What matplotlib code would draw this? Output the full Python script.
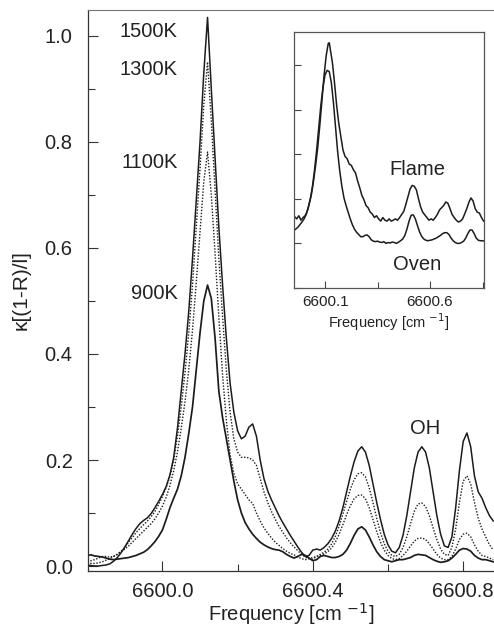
import numpy as np
import matplotlib.pyplot as plt
from matplotlib.ticker import MultipleLocator, FixedLocator

plt.rcParams['font.family'] = ['Liberation Sans', 'DejaVu Sans']

# frequency grid of the main spectra [cm-1]
freq = [
    6599.80, 6599.81, 6599.82, 6599.83, 6599.84, 6599.85, 6599.86, 6599.87, 6599.88, 6599.89,
    6599.90, 6599.91, 6599.92, 6599.93, 6599.94, 6599.95, 6599.96, 6599.97, 6599.98, 6599.99,
    6600.00, 6600.01, 6600.02, 6600.03, 6600.04, 6600.05, 6600.06, 6600.07, 6600.08, 6600.09,
    6600.10, 6600.11, 6600.12, 6600.13, 6600.14, 6600.15, 6600.16, 6600.17, 6600.18, 6600.19,
    6600.20, 6600.21, 6600.22, 6600.23, 6600.24, 6600.25, 6600.26, 6600.27, 6600.28, 6600.29,
    6600.30, 6600.31, 6600.32, 6600.33, 6600.34, 6600.35, 6600.36, 6600.37, 6600.38, 6600.39,
    6600.40, 6600.41, 6600.42, 6600.43, 6600.44, 6600.45, 6600.46, 6600.47, 6600.48, 6600.49,
    6600.50, 6600.51, 6600.52, 6600.53, 6600.54, 6600.55, 6600.56, 6600.57, 6600.58, 6600.59,
    6600.60, 6600.61, 6600.62, 6600.63, 6600.64, 6600.65, 6600.66, 6600.67, 6600.68, 6600.69,
    6600.70, 6600.71, 6600.72, 6600.73, 6600.74, 6600.75, 6600.76, 6600.77, 6600.78, 6600.79,
    6600.80, 6600.81, 6600.82, 6600.83, 6600.84, 6600.85, 6600.86, 6600.87, 6600.88,
]

k1500 = [
    0.002, 0.001, 0.000, 0.000, 0.001, 0.002, 0.004, 0.009, 0.016, 0.025,
    0.036, 0.048, 0.060, 0.071, 0.080, 0.086, 0.091, 0.099, 0.110, 0.122,
    0.135, 0.150, 0.172, 0.205, 0.260, 0.330, 0.400, 0.480, 0.580, 0.690,
    0.800, 0.930, 1.035, 0.900, 0.770, 0.640, 0.530, 0.430, 0.345, 0.290,
    0.255, 0.240, 0.245, 0.262, 0.268, 0.245, 0.200, 0.165, 0.142, 0.125,
    0.110, 0.095, 0.082, 0.070, 0.058, 0.047, 0.036, 0.026, 0.018, 0.020,
    0.030, 0.032, 0.030, 0.035, 0.042, 0.052, 0.066, 0.085, 0.110, 0.140,
    0.170, 0.197, 0.217, 0.225, 0.215, 0.190, 0.155, 0.120, 0.088, 0.060,
    0.040, 0.028, 0.025, 0.035, 0.058, 0.095, 0.140, 0.185, 0.215, 0.225,
    0.215, 0.185, 0.140, 0.095, 0.060, 0.038, 0.035, 0.055, 0.110, 0.180,
    0.235, 0.251, 0.225, 0.170, 0.140, 0.128, 0.110, 0.095, 0.085,
]

k1300 = [
    0.010, 0.010, 0.012, 0.015, 0.018, 0.018, 0.017, 0.018, 0.022, 0.028,
    0.035, 0.045, 0.054, 0.063, 0.071, 0.078, 0.085, 0.093, 0.103, 0.116,
    0.131, 0.148, 0.170, 0.200, 0.245, 0.300, 0.365, 0.440, 0.530, 0.640,
    0.750, 0.870, 0.951, 0.840, 0.710, 0.580, 0.470, 0.370, 0.290, 0.240,
    0.215, 0.205, 0.205, 0.204, 0.200, 0.190, 0.165, 0.140, 0.120, 0.103,
    0.088, 0.075, 0.064, 0.053, 0.044, 0.036, 0.029, 0.022, 0.017, 0.014,
    0.013, 0.018, 0.022, 0.026, 0.032, 0.042, 0.056, 0.075, 0.098, 0.122,
    0.145, 0.163, 0.174, 0.176, 0.168, 0.148, 0.120, 0.090, 0.063, 0.042,
    0.028, 0.020, 0.018, 0.022, 0.035, 0.055, 0.080, 0.103, 0.117, 0.119,
    0.112, 0.095, 0.072, 0.050, 0.032, 0.022, 0.020, 0.035, 0.070, 0.120,
    0.160, 0.170, 0.155, 0.120, 0.090, 0.070, 0.055, 0.040, 0.030,
]

k1100 = [
    0.006, 0.005, 0.005, 0.006, 0.008, 0.011, 0.014, 0.018, 0.022, 0.027,
    0.032, 0.038, 0.045, 0.052, 0.059, 0.066, 0.073, 0.080, 0.089, 0.100,
    0.113, 0.130, 0.152, 0.180, 0.215, 0.260, 0.310, 0.370, 0.445, 0.535,
    0.630, 0.725, 0.781, 0.700, 0.590, 0.470, 0.360, 0.275, 0.210, 0.175,
    0.155, 0.145, 0.135, 0.125, 0.118, 0.100, 0.085, 0.072, 0.062, 0.053,
    0.045, 0.039, 0.033, 0.028, 0.024, 0.021, 0.017, 0.014, 0.012, 0.014,
    0.016, 0.018, 0.020, 0.023, 0.027, 0.034, 0.045, 0.060, 0.078, 0.097,
    0.114, 0.127, 0.133, 0.134, 0.127, 0.110, 0.088, 0.065, 0.045, 0.030,
    0.020, 0.014, 0.012, 0.014, 0.020, 0.028, 0.038, 0.047, 0.052, 0.053,
    0.050, 0.042, 0.032, 0.022, 0.015, 0.012, 0.012, 0.018, 0.032, 0.050,
    0.060, 0.062, 0.055, 0.040, 0.028, 0.020, 0.018, 0.015, 0.012,
]

k900 = [
    0.020, 0.021, 0.019, 0.018, 0.017, 0.015, 0.013, 0.012, 0.013, 0.014,
    0.015, 0.016, 0.018, 0.020, 0.023, 0.026, 0.031, 0.038, 0.046, 0.056,
    0.068, 0.088, 0.110, 0.128, 0.145, 0.170, 0.205, 0.250, 0.300, 0.370,
    0.440, 0.500, 0.530, 0.505, 0.430, 0.330, 0.280, 0.240, 0.200, 0.160,
    0.125, 0.100, 0.082, 0.070, 0.060, 0.052, 0.045, 0.040, 0.036, 0.033,
    0.031, 0.030, 0.027, 0.022, 0.018, 0.015, 0.018, 0.022, 0.020, 0.015,
    0.010, 0.012, 0.018, 0.020, 0.018, 0.016, 0.016, 0.018, 0.022, 0.030,
    0.043, 0.058, 0.070, 0.074, 0.068, 0.055, 0.040, 0.027, 0.018, 0.012,
    0.010, 0.008, 0.010, 0.012, 0.012, 0.014, 0.016, 0.020, 0.022, 0.021,
    0.020, 0.016, 0.012, 0.009, 0.007, 0.008, 0.010, 0.015, 0.022, 0.030,
    0.033, 0.032, 0.028, 0.020, 0.015, 0.012, 0.012, 0.010, 0.008,
]

# inset: flame vs oven spectra (arbitrary units)
flame_freq = [
    6599.955, 6599.965, 6599.975, 6599.985, 6599.995, 6600.005, 6600.015, 6600.025, 6600.035, 6600.045,
    6600.055, 6600.065, 6600.075, 6600.085, 6600.095, 6600.105, 6600.115, 6600.120, 6600.125, 6600.135,
    6600.145, 6600.155, 6600.165, 6600.175, 6600.185, 6600.195, 6600.205, 6600.215, 6600.225, 6600.235,
    6600.245, 6600.255, 6600.265, 6600.275, 6600.285, 6600.295, 6600.305, 6600.315, 6600.325, 6600.335,
    6600.345, 6600.355, 6600.365, 6600.375, 6600.385, 6600.395, 6600.405, 6600.415, 6600.425, 6600.435,
    6600.445, 6600.455, 6600.465, 6600.475, 6600.485, 6600.495, 6600.505, 6600.515, 6600.525, 6600.535,
    6600.545, 6600.555, 6600.565, 6600.575, 6600.585, 6600.595, 6600.605, 6600.615, 6600.625, 6600.635,
    6600.645, 6600.655, 6600.665, 6600.675, 6600.685, 6600.695, 6600.705, 6600.715, 6600.725, 6600.735,
    6600.745, 6600.755, 6600.765, 6600.775, 6600.785, 6600.795, 6600.805, 6600.815, 6600.825, 6600.835,
    6600.845, 6600.855,
]
flame = [
    1.60, 1.55, 1.62, 1.52, 1.58, 1.62, 1.72, 1.90, 2.10, 2.40,
    2.75, 3.15, 3.65, 4.20, 4.75, 5.20, 5.48, 5.50, 5.35, 5.05,
    4.60, 4.10, 3.70, 3.40, 3.10, 2.95, 2.90, 2.78, 2.75, 2.65,
    2.58, 2.40, 2.25, 2.08, 1.98, 1.85, 1.80, 1.70, 1.66, 1.58,
    1.62, 1.55, 1.50, 1.58, 1.52, 1.50, 1.55, 1.50, 1.52, 1.55,
    1.52, 1.58, 1.65, 1.72, 1.88, 2.05, 2.22, 2.30, 2.28, 2.20,
    2.00, 1.82, 1.70, 1.64, 1.58, 1.52, 1.55, 1.52, 1.58, 1.65,
    1.75, 1.80, 1.85, 1.93, 1.90, 1.78, 1.65, 1.58, 1.52, 1.48,
    1.50, 1.55, 1.66, 1.78, 1.92, 2.02, 1.95, 1.78, 1.70, 1.68,
    1.58, 1.50,
]

oven_freq = [
    6599.955, 6599.97, 6599.98, 6599.99, 6600.00, 6600.01, 6600.02, 6600.03, 6600.04, 6600.05,
    6600.06, 6600.07, 6600.08, 6600.09, 6600.10, 6600.11, 6600.12, 6600.13, 6600.14, 6600.15,
    6600.16, 6600.17, 6600.18, 6600.19, 6600.20, 6600.21, 6600.22, 6600.23, 6600.24, 6600.25,
    6600.26, 6600.27, 6600.28, 6600.29, 6600.30, 6600.31, 6600.32, 6600.33, 6600.34, 6600.35,
    6600.36, 6600.37, 6600.38, 6600.39, 6600.40, 6600.41, 6600.42, 6600.43, 6600.44, 6600.45,
    6600.46, 6600.47, 6600.48, 6600.49, 6600.50, 6600.51, 6600.52, 6600.53, 6600.54, 6600.55,
    6600.56, 6600.57, 6600.58, 6600.59, 6600.60, 6600.61, 6600.62, 6600.63, 6600.64, 6600.65,
    6600.66, 6600.67, 6600.68, 6600.69, 6600.70, 6600.71, 6600.72, 6600.73, 6600.74, 6600.75,
    6600.76, 6600.77, 6600.78, 6600.79, 6600.80, 6600.81, 6600.82, 6600.83, 6600.84, 6600.85,
    6600.86,
]
oven = [
    1.30, 1.36, 1.42, 1.48, 1.55, 1.65, 1.80, 2.00, 2.28, 2.65,
    3.10, 3.60, 4.10, 4.50, 4.78, 4.88, 4.85, 4.60, 4.15, 3.60,
    3.05, 2.62, 2.28, 2.02, 1.85, 1.70, 1.55, 1.42, 1.32, 1.25,
    1.20, 1.15, 1.15, 1.18, 1.19, 1.15, 1.08, 1.05, 1.04, 1.05,
    1.03, 1.02, 1.04, 1.00, 1.02, 1.01, 1.03, 1.02, 1.00, 1.03,
    1.06, 1.10, 1.18, 1.32, 1.50, 1.63, 1.64, 1.55, 1.40, 1.26,
    1.16, 1.10, 1.07, 1.06, 1.07, 1.08, 1.10, 1.12, 1.15, 1.18,
    1.22, 1.24, 1.24, 1.20, 1.12, 1.06, 1.02, 1.00, 1.00, 1.02,
    1.05, 1.12, 1.22, 1.30, 1.30, 1.22, 1.12, 1.07, 1.06, 1.06,
    1.05,
]

temps = ['1500K', '1300K', '1100K', '900K']
line_col = '#1c1c1c'
txt_col = '#222222'
fs = 14.5

fig = plt.figure(figsize=(4.94, 6.31), dpi=100)
ax = fig.add_axes([88/494, 60/631, 406/494, 561/631])

ax.plot(freq, k1500, color=line_col, lw=1.1, ls='-')
ax.plot(freq, k1300, color=line_col, lw=1.0, ls=(0, (1, 1.2)))
ax.plot(freq, k1100, color=line_col, lw=1.0, ls=(0, (1, 1.2)))
ax.plot(freq, k900, color=line_col, lw=1.25, ls='-')

ax.set_xlim(6599.802, 6600.882)
ax.set_ylim(-0.0094, 1.049)
ax.xaxis.set_major_locator(MultipleLocator(0.4))
ax.xaxis.set_minor_locator(MultipleLocator(0.2))
ax.yaxis.set_major_locator(MultipleLocator(0.2))
ax.yaxis.set_minor_locator(MultipleLocator(0.1))
ax.xaxis.set_major_formatter(plt.FormatStrFormatter('%.1f'))
ax.yaxis.set_major_formatter(plt.FormatStrFormatter('%.1f'))
ax.tick_params(which='both', direction='in', top=False, right=False,
               labelsize=fs, labelcolor=txt_col, color='#333333', width=0.8)
ax.tick_params(axis='y', which='major', length=7, pad=11)
ax.tick_params(axis='y', which='minor', length=5)
ax.tick_params(axis='x', which='major', length=7, pad=8)
ax.tick_params(axis='x', which='minor', length=5)
ax.spines['right'].set_visible(False)
ax.spines['top'].set_color('#777777')
for s in ('left', 'bottom'):
    ax.spines[s].set_color('#333333')
    ax.spines[s].set_linewidth(0.9)

ax.set_xlabel('Frequency [cm $^{-1}$]', fontsize=14.5, color=txt_col, labelpad=0)
ax.set_ylabel('κ[(1-R)/l]', fontsize=15, color=txt_col, labelpad=10)

label_y = [1.008, 0.936, 0.762, 0.515]
for t, yv in zip(temps, label_y):
    ax.text(6600.041, yv, t, ha='right', va='center', fontsize=fs, color=txt_col)
ax.text(6600.698, 0.26, 'OH', ha='center', va='center', fontsize=fs, color=txt_col)

# inset
ins = fig.add_axes([294/494, 343/631, 190/494, 256/631])
ins.plot(flame_freq, flame, color=line_col, lw=1.1)
ins.plot(oven_freq, oven, color=line_col, lw=1.1)
ins.set_xlim(6599.952, 6600.857)
ins.set_ylim(0, 5.74)
ins.xaxis.set_major_locator(FixedLocator([6600.1, 6600.6]))
ins.xaxis.set_minor_locator(FixedLocator([6600.35, 6600.85]))
ins.xaxis.set_major_formatter(plt.FormatStrFormatter('%.1f'))
ins.yaxis.set_major_locator(MultipleLocator(1))
ins.set_yticklabels([])
ins.tick_params(which='both', direction='in', labelsize=11, labelcolor=txt_col,
                color='#444444', width=0.8, pad=5)
ins.tick_params(which='major', length=5)
ins.tick_params(which='minor', length=4)
for s in ins.spines.values():
    s.set_color('#555555')
    s.set_linewidth(0.9)
ins.set_xlabel('Frequency [cm $^{-1}$]', fontsize=10.5, color=txt_col, labelpad=2)
ins.text(0.647, 0.461, 'Flame', transform=ins.transAxes, ha='center', va='center',
         fontsize=fs, color=txt_col)
ins.text(0.647, 0.09, 'Oven', transform=ins.transAxes, ha='center', va='center',
         fontsize=fs, color=txt_col)

fig.savefig('out.png', dpi=100)
